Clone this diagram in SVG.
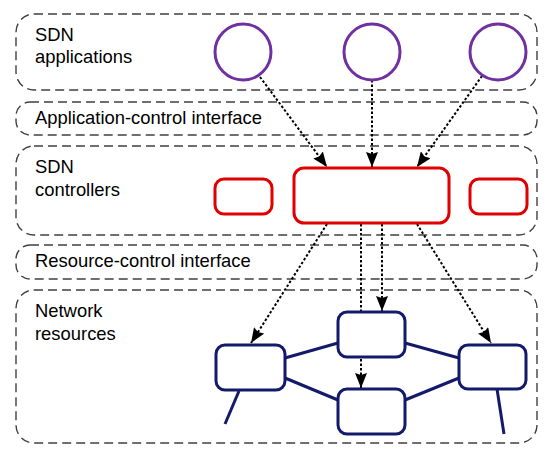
<svg xmlns="http://www.w3.org/2000/svg" width="550" height="458" viewBox="0 0 550 458">
<style>
.layer{fill:none;stroke:#404040;stroke-width:1.4;stroke-dasharray:9 5}
.lbl{font-family:"Liberation Sans",Arial,sans-serif;font-size:18.4px;fill:#000}
.app{fill:#fff;stroke:#7030a0;stroke-width:3}
.ctl{fill:#fff;stroke:#e00000;stroke-width:3}
.res{fill:#fff;stroke:#141a6a;stroke-width:3}
.link{stroke:#141a6a;stroke-width:3;fill:none}
.ctrl{stroke:#000;stroke-width:2;stroke-dasharray:2.5 2;fill:none;marker-end:url(#ah)}
</style>
<defs>
<marker id="ah" markerUnits="userSpaceOnUse" markerWidth="15" markerHeight="12" viewBox="0 0 15 12" refX="15" refY="6" orient="auto">
<path d="M0,0 L15,6 L0,12 L2,6 Z" fill="#000"/>
</marker>
</defs>
<rect width="550" height="458" fill="#fff"/>
<g id="layers">
<g id="layer-apps"><rect class="layer" x="16" y="14" width="521" height="76" rx="18"/><text class="lbl" x="35" y="41">SDN</text><text class="lbl" x="35" y="63">applications</text></g>
<g id="layer-aci"><rect class="layer" x="16" y="102" width="521" height="33" rx="14"/><text class="lbl" x="35" y="124">Application-control interface</text></g>
<g id="layer-ctl"><rect class="layer" x="16" y="146" width="521" height="89" rx="18"/><text class="lbl" x="35" y="173">SDN</text><text class="lbl" x="35" y="196">controllers</text></g>
<g id="layer-rci"><rect class="layer" x="16" y="245" width="521" height="34" rx="14"/><text class="lbl" x="35" y="267">Resource-control interface</text></g>
<g id="layer-res"><rect class="layer" x="16" y="290" width="521" height="153" rx="18"/><text class="lbl" x="35" y="317">Network</text><text class="lbl" x="35" y="340">resources</text></g>
</g>
<g id="connectors">
<line class="ctrl" x1="260" y1="77" x2="327" y2="167"/>
<line class="ctrl" x1="372" y1="80" x2="372" y2="167"/>
<line class="ctrl" x1="482" y1="76" x2="417" y2="167"/>
<line class="ctrl" x1="327" y1="224" x2="251" y2="343"/>
<line class="ctrl" x1="361" y1="224" x2="361" y2="388"/>
<line class="ctrl" x1="382" y1="224" x2="382" y2="311"/>
<line class="ctrl" x1="417" y1="224" x2="491" y2="343"/>
<line class="link" x1="285" y1="358" x2="338" y2="343"/>
<line class="link" x1="285" y1="378" x2="338" y2="400"/>
<line class="link" x1="405" y1="343" x2="459" y2="358"/>
<line class="link" x1="405" y1="400" x2="459" y2="378"/>
<line class="link" x1="239" y1="391" x2="225" y2="424"/>
<line class="link" x1="497" y1="389" x2="504" y2="434"/>
</g>
<g id="app1"><circle class="app" cx="243" cy="52" r="28"/></g>
<g id="app2"><circle class="app" cx="372" cy="52" r="28"/></g>
<g id="app3"><circle class="app" cx="498" cy="52" r="28"/></g>
<g id="ctl-left"><rect class="ctl" x="215" y="179" width="57" height="35" rx="9"/></g>
<g id="ctl-main"><rect class="ctl" x="294" y="168" width="155" height="55" rx="10"/></g>
<g id="ctl-right"><rect class="ctl" x="470" y="179" width="57" height="35" rx="9"/></g>
<g id="res-left"><rect class="res" x="216" y="345" width="69" height="45" rx="9"/></g>
<g id="res-top"><rect class="res" x="338" y="312" width="67" height="45" rx="9"/></g>
<g id="res-bottom"><rect class="res" x="338" y="389" width="67" height="45" rx="9"/></g>
<g id="res-right"><rect class="res" x="459" y="345" width="67" height="44" rx="9"/></g>
</svg>
